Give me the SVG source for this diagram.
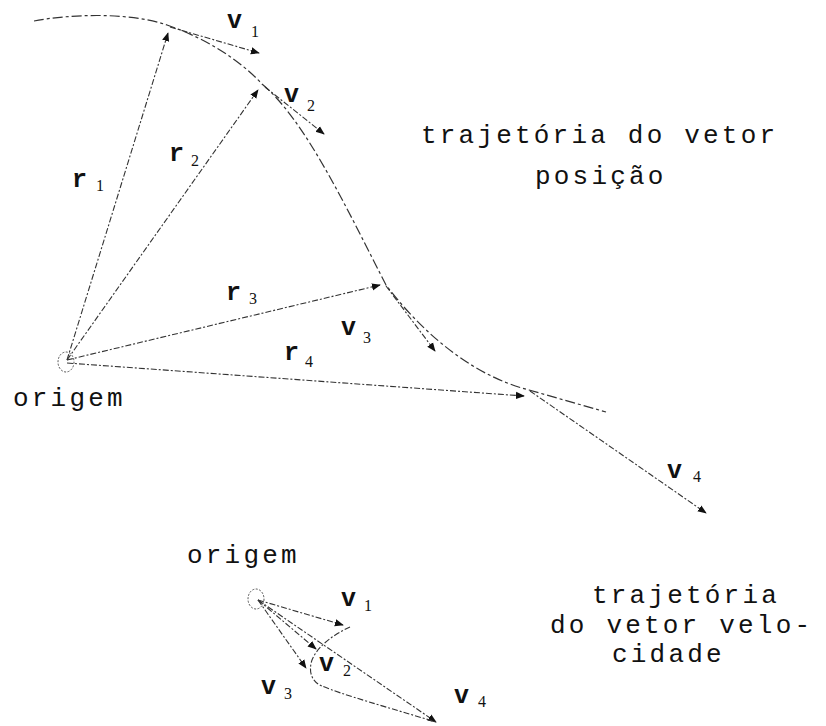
<svg xmlns="http://www.w3.org/2000/svg" width="826" height="726" viewBox="0 0 826 726">
<style>
.ln{fill:none;stroke:#333;stroke-width:1.1;stroke-dasharray:6 2 2 2}
.tr{fill:none;stroke:#333;stroke-width:1.2;stroke-dasharray:10 3 3 3}
.txt{font-family:"Liberation Mono",monospace;font-size:26px;letter-spacing:3.2px;fill:#111}
.sym{font-family:"Liberation Mono",monospace;font-size:25px;font-weight:bold;fill:#111}
.sub{font-family:"Liberation Serif",serif;font-size:16px;fill:#111}
.org{fill:none;stroke:#555;stroke-width:1;stroke-dasharray:2 1.5}
</style>
<defs>
<marker id="ah" viewBox="0 0 10 10" refX="9" refY="5" markerWidth="9" markerHeight="9" markerUnits="userSpaceOnUse" orient="auto">
<path d="M0,1 L10,5 L0,9 z" fill="#111"/>
</marker>
</defs>
<g id="trajectory">
<path class="tr" d="M34,21 C70,14 130,12 167,25 C205,38 240,60 262,84 C305,120 345,205 386,285 C420,330 470,375 529,390 L606,412"/>
</g>
<g id="origin-upper">
<ellipse class="org" cx="66" cy="362" rx="8" ry="10"/>
<text class="txt" x="13" y="406">origem</text>
</g>
<g id="connectors">
<line class="ln" x1="67" y1="360" x2="168" y2="33" marker-end="url(#ah)"/>
<line class="ln" x1="67" y1="360" x2="258" y2="90" marker-end="url(#ah)"/>
<line class="ln" x1="67" y1="360" x2="380" y2="285" marker-end="url(#ah)"/>
<line class="ln" x1="67" y1="363" x2="524" y2="396" marker-end="url(#ah)"/>
<line class="ln" x1="170" y1="27" x2="259" y2="53" marker-end="url(#ah)"/>
<line class="ln" x1="265" y1="87" x2="324" y2="134" marker-end="url(#ah)"/>
<line class="ln" x1="386" y1="286" x2="435" y2="351" marker-end="url(#ah)"/>
<line class="ln" x1="530" y1="391" x2="706" y2="513" marker-end="url(#ah)"/>
<line class="ln" x1="258" y1="600" x2="343" y2="625" marker-end="url(#ah)"/>
<line class="ln" x1="258" y1="600" x2="316" y2="649" marker-end="url(#ah)"/>
<line class="ln" x1="258" y1="600" x2="306" y2="668" marker-end="url(#ah)"/>
<line class="ln" x1="258" y1="600" x2="436" y2="722" marker-end="url(#ah)"/>
<path class="ln" d="M350,627 C335,634 318,645 312,660 C308,672 312,682 322,686 C340,694 390,708 436,722"/>
</g>
<g id="labels-upper">
<text class="sym" x="227" y="28">v</text><text class="sub" x="251" y="37">1</text>
<text class="sym" x="284" y="102">v</text><text class="sub" x="307" y="111">2</text>
<text class="sym" x="72" y="187">r</text><text class="sub" x="96" y="191">1</text>
<text class="sym" x="169" y="161">r</text><text class="sub" x="191" y="166">2</text>
<text class="sym" x="226" y="300">r</text><text class="sub" x="249" y="304">3</text>
<text class="sym" x="341" y="335">v</text><text class="sub" x="363" y="343">3</text>
<text class="sym" x="284" y="360">r</text><text class="sub" x="305" y="367">4</text>
<text class="sym" x="667" y="478">v</text><text class="sub" x="693" y="482">4</text>
</g>
<g id="title-upper">
<text class="txt" x="421" y="143">trajetória do vetor</text>
<text class="txt" x="535" y="184">posição</text>
</g>
<g id="origin-lower">
<ellipse class="org" cx="256" cy="599" rx="8" ry="10"/>
<text class="txt" x="187" y="563">origem</text>
</g>
<g id="labels-lower">
<text class="sym" x="341" y="606">v</text><text class="sub" x="364" y="611">1</text>
<text class="sym" x="319" y="671">v</text><text class="sub" x="343" y="676">2</text>
<text class="sym" x="261" y="694">v</text><text class="sub" x="284" y="699">3</text>
<text class="sym" x="454" y="703">v</text><text class="sub" x="478" y="707">4</text>
</g>
<g id="title-lower">
<text class="txt" x="592" y="603">trajetória</text>
<text class="txt" x="550" y="633">do vetor velo-</text>
<text class="txt" x="612" y="662">cidade</text>
</g>
</svg>
